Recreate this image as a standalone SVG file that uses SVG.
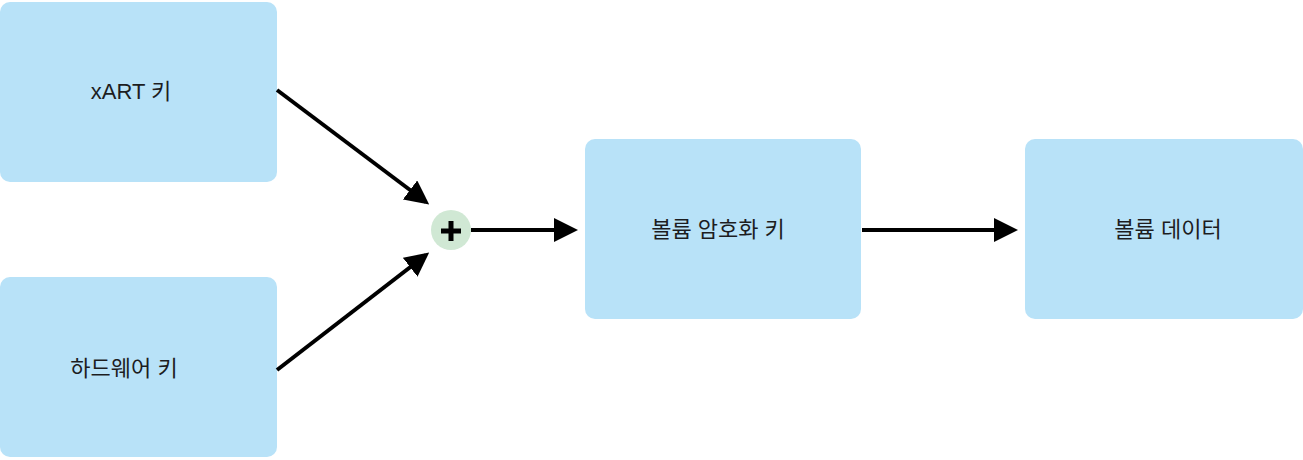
<svg xmlns="http://www.w3.org/2000/svg" width="1303" height="460" viewBox="0 0 1303 460">
<style>
.box{fill:#b8e2f8}
.t{font-family:"Liberation Sans","Noto Sans CJK KR",sans-serif;font-size:22px;fill:#1d1d1f;text-anchor:middle}
.c{stroke:#000;stroke-width:4;fill:none}
</style>
<defs><marker id="a" markerWidth="6" markerHeight="6" refX="5" refY="3" orient="auto" markerUnits="strokeWidth"><path d="M0,0 L6,3 L0,6 Z" fill="#000"/></marker></defs>
<rect width="1303" height="460" fill="#fff"/>
<g id="n1"><rect class="box" x="0" y="2" width="277" height="180" rx="10"/><text class="t" x="131" y="99">xART 키</text></g>
<g id="n2"><rect class="box" x="0" y="277" width="277" height="180" rx="10"/><text class="t" x="124" y="376">하드웨어 키</text></g>
<g id="n3"><rect class="box" x="585" y="139" width="276" height="180" rx="10"/><text class="t" x="718" y="237">볼륨 암호화 키</text></g>
<g id="n4"><rect class="box" x="1025" y="139" width="278" height="180" rx="10"/><text class="t" x="1168" y="237">볼륨 데이터</text></g>
<g id="plus"><circle cx="451" cy="230" r="20" fill="#d0e8d4"/><path d="M441,231 H461 M451,221 V241" stroke="#000" stroke-width="5"/></g>
<g id="connectors">
<path class="c" d="M277,90 L426,202" marker-end="url(#a)"/>
<path class="c" d="M277,370 L426,255" marker-end="url(#a)"/>
<path class="c" d="M471,230 L574,230" marker-end="url(#a)"/>
<path class="c" d="M862,230 L1014,230" marker-end="url(#a)"/>
</g>
</svg>
